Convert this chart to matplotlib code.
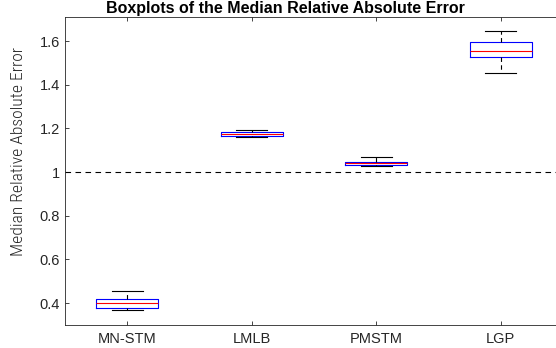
import matplotlib
matplotlib.use("Agg")
import matplotlib.pyplot as plt

categories = ["MN-STM", "LMLB", "PMSTM", "LGP"]
medians = [0.399, 1.174, 1.040, 1.556]
q1 = [0.380, 1.166, 1.033, 1.528]
q3 = [0.418, 1.182, 1.046, 1.594]
whislo = [0.368, 1.159, 1.026, 1.453]
whishi = [0.456, 1.192, 1.069, 1.647]
yticks = [0.4, 0.6, 0.8, 1.0, 1.2, 1.4, 1.6]
yticklabels = ["0.4", "0.6", "0.8", "1", "1.2", "1.4", "1.6"]

plt.rcParams['font.family'] = ['Liberation Sans', 'DejaVu Sans']

W, H = 556, 348
fig = plt.figure(figsize=(W/100, H/100), dpi=100)
left, right, top, bottom = 65, 563, 17, 325
ax = fig.add_axes([left/W, 1-bottom/H, (right-left)/W, (bottom-top)/H])

stats = []
for i, c in enumerate(categories):
    stats.append(dict(label=c, med=medians[i], q1=q1[i], q3=q3[i],
                      whislo=whislo[i], whishi=whishi[i], fliers=[]))

ax.bxp(stats, positions=range(1, len(categories)+1), widths=0.5,
       showfliers=False,
       boxprops=dict(color='#0000ff', linewidth=0.8),
       medianprops=dict(color='#ff0000', linewidth=0.8),
       whiskerprops=dict(color='black', linewidth=0.8, linestyle=(0, (4, 3))),
       capprops=dict(color='black', linewidth=0.8),
       capwidths=0.25)

ax.axhline(1.0, color='black', linestyle=(0, (5, 4)), linewidth=0.8)

ax.set_xlim(0.5, 4.5)
ax.set_ylim(0.3, 1.71)
ax.set_yticks(yticks)
ax.set_yticklabels(yticklabels)
ax.set_xticks(range(1, len(categories)+1))
ax.set_xticklabels(categories)
ax.tick_params(direction='in', length=3, width=0.6, labelsize=10.5, colors='#262626',
               top=True, right=True)
ax.tick_params(axis='x', pad=5)
for s in ax.spines.values():
    s.set_linewidth(0.6)
    s.set_color('#262626')

ax.set_ylabel("Median Relative Absolute Error", fontsize=12.6, fontweight='light',
              family=['Roboto Condensed', 'PT Sans Narrow', 'DejaVu Sans'],
              color='#262626')
ax.yaxis.set_label_coords(-(65-19)/(right-left), 1-(152-top)/(bottom-top))
ax.yaxis.label.set_va('center')

fig.text(285/W, 1-9/H, "Boxplots of the Median Relative Absolute Error",
         ha='center', va='center', fontsize=11.5, fontweight='bold')

fig.savefig("out.png", dpi=100)
